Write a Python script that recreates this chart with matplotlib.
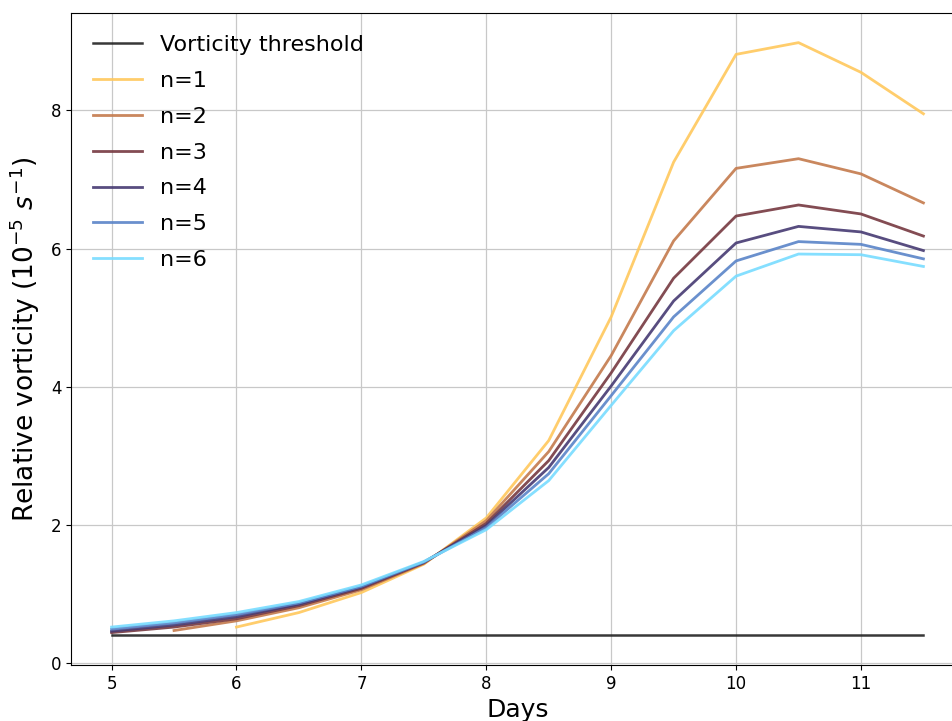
import matplotlib
matplotlib.use("Agg")
import matplotlib.pyplot as plt

days = [5.0, 5.5, 6.0, 6.5, 7.0, 7.5, 8.0, 8.5, 9.0, 9.5, 10.0, 10.5, 11.0, 11.5]
threshold = 0.4

n1_days = days[2:]
n1 = [0.52, 0.73, 1.02, 1.43, 2.10, 3.22, 5.01, 7.25, 8.81, 8.98, 8.55, 7.95]
n2_days = days[1:]
n2 = [0.47, 0.61, 0.80, 1.06, 1.44, 2.06, 3.06, 4.45, 6.11, 7.16, 7.30, 7.08, 6.66]
n3 = [0.44, 0.52, 0.64, 0.83, 1.08, 1.45, 2.02, 2.93, 4.20, 5.57, 6.47, 6.63, 6.50, 6.18]
n4 = [0.46, 0.55, 0.67, 0.85, 1.10, 1.46, 1.99, 2.83, 4.01, 5.24, 6.08, 6.32, 6.24, 5.97]
n5 = [0.49, 0.58, 0.70, 0.87, 1.11, 1.46, 1.96, 2.74, 3.87, 5.01, 5.82, 6.10, 6.06, 5.85]
n6 = [0.52, 0.61, 0.73, 0.89, 1.13, 1.47, 1.93, 2.64, 3.73, 4.81, 5.60, 5.92, 5.91, 5.74]

series = [
    ("n=1", n1_days, n1, "#ffc85c"),
    ("n=2", n2_days, n2, "#c47a4c"),
    ("n=3", days, n3, "#763840"),
    ("n=4", days, n4, "#463a72"),
    ("n=5", days, n5, "#5a84c8"),
    ("n=6", days, n6, "#78dcff"),
]

fig = plt.figure(figsize=(9.53, 7.21), dpi=100)
ax = fig.add_axes([71 / 953, 1 - 665 / 721, (964 - 71) / 953, (665 - 13) / 721])

ax.plot([days[0], days[-1]], [threshold, threshold], color="#222222", lw=1.8,
        alpha=0.9, label="Vorticity threshold")
for name, x, y, c in series:
    ax.plot(x, y, color=c, lw=2.0, alpha=0.9, label=name)

ax.grid(True, color="#c8c8c8", lw=0.9)
ax.set_axisbelow(True)
ax.set_xlabel("Days", fontsize=18)
ax.set_ylabel(r"Relative vorticity ($10^{-5}$ $s^{-1}$)", fontsize=19, labelpad=6)
ax.tick_params(labelsize=12)
ax.set_yticks([0, 2, 4, 6, 8])
ax.set_xticks([5, 6, 7, 8, 9, 10, 11])
ax.legend(loc="upper left", fontsize=16, frameon=False, handlelength=2.2,
          labelspacing=0.71, borderaxespad=0.6)

fig.savefig("out.png", dpi=100)
